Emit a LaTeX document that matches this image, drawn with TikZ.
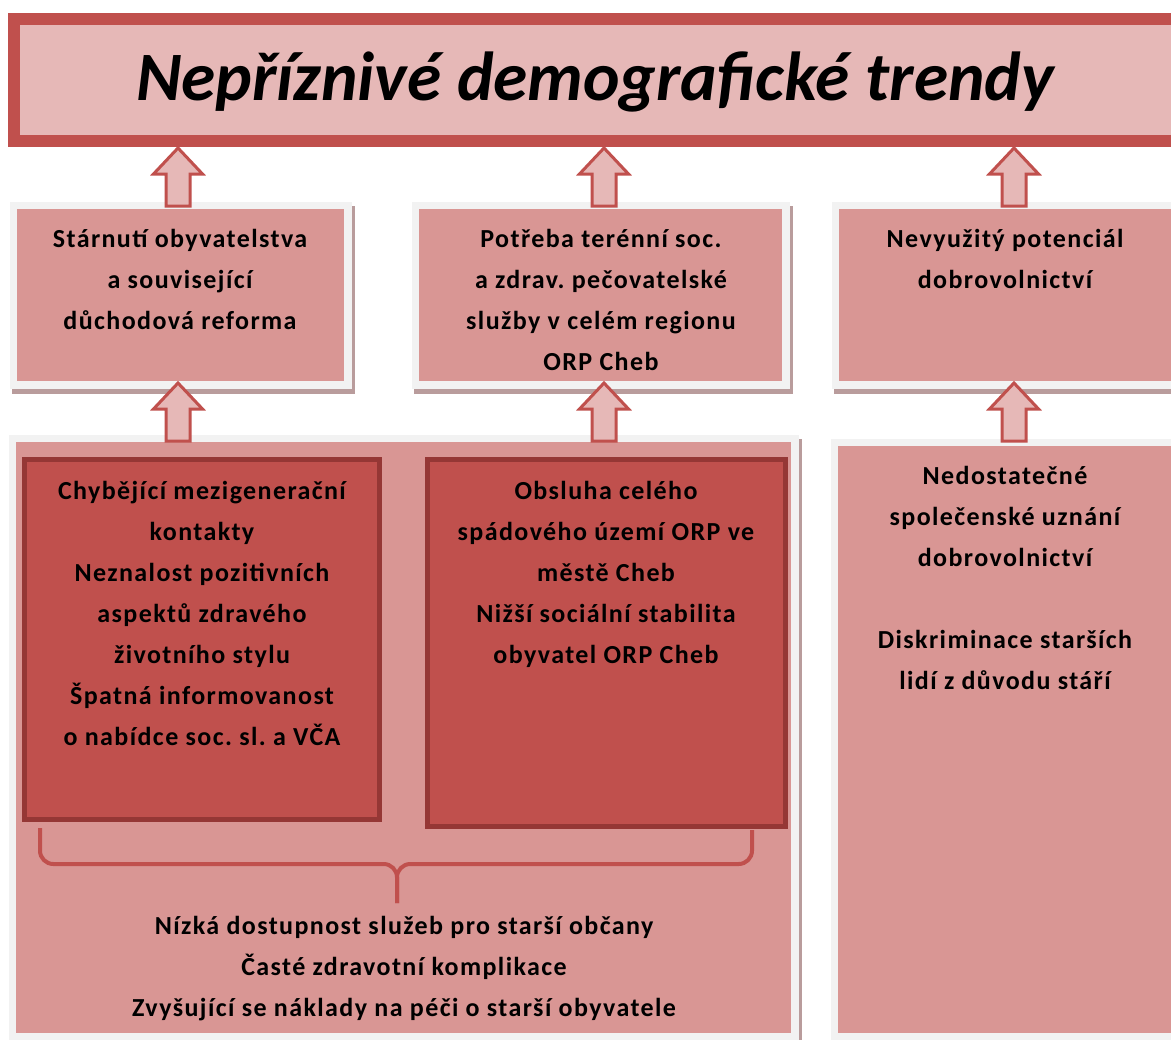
\documentclass[tikz,border=0pt]{standalone}
\usepackage{fontspec}
\setmainfont{Carlito}
\newfontfamily\boxfont[LetterSpace=5.4]{Carlito}
\frenchspacing
\definecolor{titlepink}{HTML}{E6B8B7}
\definecolor{accred}{HTML}{C0504D}
\definecolor{boxpink}{HTML}{D99694}
\definecolor{darkred}{HTML}{953735}
\definecolor{framegray}{HTML}{F2F2F2}
\definecolor{shadowgray}{HTML}{B99C9C}

% gray frame with shadow and pink inside: x1 y1 x2 y2 of the frame
\newcommand\panel[4]{%
  \fill[shadowgray] (#1+2,#2+4) rectangle (#3+3,#4+5);
  \fill[framegray] (#1,#2) rectangle (#3,#4);
  \fill[boxpink] (#1+7,#2+7) rectangle (#3-8,#4-8);}

\tikzset{
  txt/.style={font=\boxfont\bfseries\fontsize{19.5}{30.75}\selectfont\frenchspacing, align=center, inner sep=0pt, anchor=base},
  uparrow/.pic={
    \filldraw[fill=titlepink, draw=accred, line width=2.25pt, line join=miter]
      (0,0) -- (24.5,26) -- (12,26) -- (12,58) -- (-12,58) -- (-12,26) -- (-24.5,26) -- cycle;
  }
}

\begin{document}
\begin{tikzpicture}[x=0.75pt, y=-0.75pt]
  \useasboundingbox (0,0) rectangle (1171,1039);
  \fill[white] (0,0) rectangle (1171,1039);

  % title
  \filldraw[fill=titlepink, draw=accred, line width=9pt] (14,19) rectangle (1177,141);
  \node (title) at (595,100) [anchor=base, font=\bfseries\itshape\fontsize{52}{60}\selectfont] {Nepříznivé demografické trendy};

  % middle row
  \panel{10}{202}{352}{389}
  \panel{412}{202}{790}{389}
  \panel{832}{202}{1185}{389}

  % bottom row
  \panel{9}{435}{799}{1041}
  \panel{831}{439}{1185}{1041}
  \filldraw[fill=accred, draw=darkred, line width=3.75pt] (24.5,459.5) rectangle (379.5,819.5);
  \filldraw[fill=accred, draw=darkred, line width=3.75pt] (427.5,459.5) rectangle (785.5,826.5);

  % brace
  \draw[accred, line width=3pt, rounded corners=10] (40,828) -- (40,864) -- (397,864) -- (397,903);
  \draw[accred, line width=3pt, rounded corners=10] (752,830) -- (752,864) -- (397,864) -- (397,903);

  % arrows
  \pic at (178,148) {uparrow};
  \pic at (604,148) {uparrow};
  \pic at (1014,148) {uparrow};
  \pic at (178,383) {uparrow};
  \pic at (604,383) {uparrow};
  \pic at (1014,383) {uparrow};

  % texts (anchored at the baseline of the last line)
  \node[txt] (aging) at (180,329) {Stárnutí obyvatelstva\\a související\\důchodová reforma};
  \node[txt] (fieldcare) at (601,370) {Potřeba terénní soc.\\a zdrav. pečovatelské\\služby v celém regionu\\ORP Cheb};
  \node[txt] (volunteer) at (1005,288) {Nevyužitý potenciál\\dobrovolnictví};
  \node[txt] (contacts) at (202,745) {Chybějící mezigenerační\\kontakty\\Neznalost pozitivních\\aspektů zdravého\\životního stylu\\Špatná informovanost\\o nabídce soc. sl. a VČA};
  \node[txt] (region) at (606,663) {Obsluha celého\\spádového území ORP ve\\městě Cheb\\Nižší sociální stabilita\\obyvatel ORP Cheb};
  \node[txt] (recognition) at (1005,689) {Nedostatečné\\společenské uznání\\dobrovolnictví\\[30.75pt]Diskriminace starších\\lidí z důvodu stáří};
  \node[txt] (access) at (404,1016) {Nízká dostupnost služeb pro starší občany\\Časté zdravotní komplikace\\Zvyšující se náklady na péči o starší obyvatele};
\end{tikzpicture}
\end{document}
